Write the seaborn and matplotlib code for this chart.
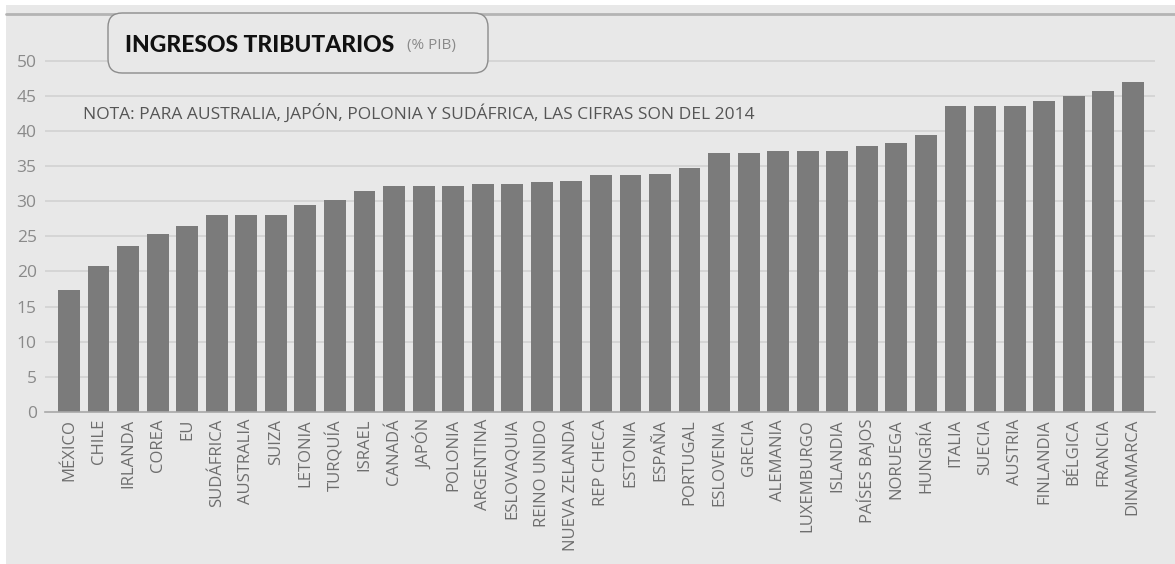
import matplotlib
matplotlib.use("Agg")
import matplotlib.pyplot as plt
import seaborn as sns
import pandas as pd
from matplotlib.patches import FancyBboxPatch, Rectangle
from matplotlib.lines import Line2D

paises = ["MÉXICO", "CHILE", "IRLANDA", "COREA", "EU", "SUDÁFRICA", "AUSTRALIA",
          "SUIZA", "LETONIA", "TURQUÍA", "ISRAEL", "CANADÁ", "JAPÓN", "POLONIA",
          "ARGENTINA", "ESLOVAQUIA", "REINO UNIDO", "NUEVA ZELANDA", "REP CHECA",
          "ESTONIA", "ESPAÑA", "PORTUGAL", "ESLOVENIA", "GRECIA", "ALEMANIA",
          "LUXEMBURGO", "ISLANDIA", "PAÍSES BAJOS", "NORUEGA", "HUNGRÍA", "ITALIA",
          "SUECIA", "AUSTRIA", "FINLANDIA", "BÉLGICA", "FRANCIA", "DINAMARCA"]
ingresos = [17.4, 20.8, 23.6, 25.3, 26.4, 28.0, 28.0,
            28.0, 29.4, 30.1, 31.4, 32.1, 32.1, 32.1,
            32.4, 32.5, 32.7, 32.8, 33.7,
            33.7, 33.9, 34.7, 36.8, 36.9, 37.1,
            37.1, 37.1, 37.8, 38.3, 39.4, 43.5,
            43.5, 43.5, 44.3, 45.0, 45.6, 47.0]
y_ticks = [0, 5, 10, 15, 20, 25, 30, 35, 40, 45, 50]
titulo = "INGRESOS TRIBUTARIOS"
unidad = "(% PIB)"
nota = "NOTA: PARA AUSTRALIA, JAPÓN, POLONIA Y SUDÁFRICA, LAS CIFRAS SON DEL 2014"

sns.set_style("white")
plt.rcParams["font.family"] = ["Open Sans", "DejaVu Sans"]

W, H = 1175, 564
BG = "#e8e8e8"
fig = plt.figure(figsize=(W / 100, H / 100), dpi=100, facecolor=BG)

def fx(px):
    return px / W

def fy(py):
    return 1 - py / H

# white margins (left and top)
fig.patches.append(Rectangle((0, 0), fx(6), 1, transform=fig.transFigure,
                             facecolor="white", edgecolor="none", zorder=-5))
fig.patches.append(Rectangle((0, fy(5)), 1, 5 / H, transform=fig.transFigure,
                             facecolor="white", edgecolor="none", zorder=-5))

ax_l, ax_r, ax_t, ax_b = 45, 1155, 13, 412
ax = fig.add_axes([fx(ax_l), fy(ax_b), fx(ax_r - ax_l), (ax_b - ax_t) / H])
ax.set_facecolor("none")

df = pd.DataFrame({"pais": paises, "valor": ingresos})
sns.barplot(data=df, x="pais", y="valor", color="#7b7b7b", saturation=1,
            width=0.74, ax=ax, zorder=3, edgecolor="none")

per = 29.55
ax.set_xlim(-(69 - ax_l) / per, (ax_r - 69) / per)
ax.set_ylim(0, (ax_b - ax_t) / 7.03)
ax.set_yticks(y_ticks)
ax.set_yticklabels([str(v) for v in y_ticks], fontsize=12.5, color="#8a8a8a")
for v in y_ticks[1:]:
    ax.axhline(v, color="#d2d2d2", lw=1.2, zorder=1)
ax.tick_params(axis="both", length=0)
ax.tick_params(axis="y", pad=6)
ax.tick_params(axis="x", pad=5)
ax.set_xticks(range(len(paises)))
ax.set_xticklabels(paises, rotation=90, fontsize=12, color="#6e6e6e")
ax.set_xlabel("")
ax.set_ylabel("")
for s in ["top", "right", "left"]:
    ax.spines[s].set_visible(False)
ax.spines["bottom"].set_color("#a8a8a8")
ax.spines["bottom"].set_linewidth(1.2)
ax.spines["bottom"].set_zorder(4)

# top line
fig.lines.append(Line2D([fx(6), 1], [fy(13.5), fy(13.5)], transform=fig.transFigure,
                        color="#b4b4b4", lw=2, zorder=5))

# title box
bx0, bx1, by0, by1 = 108, 488, 13, 73
box = FancyBboxPatch((fx(bx0), fy(by1)), fx(bx1 - bx0), (by1 - by0) / H,
                     boxstyle="round,pad=0,rounding_size=0.012",
                     transform=fig.transFigure, facecolor=BG, edgecolor="#8c8c8c",
                     lw=1, zorder=6, mutation_aspect=W / H)
fig.patches.append(box)
fig.text(fx(125), fy(45), titulo, fontsize=16.5, fontweight="black",
         family=["Lato", "DejaVu Sans"], color="#111111", va="center", ha="left", zorder=7)
fig.text(fx(407), fy(45), unidad, fontsize=11, color="#8a8a8a", va="center", ha="left", zorder=7)

fig.text(fx(83), fy(113), nota, fontsize=12.5, color="#555555", va="center", ha="left", zorder=7)

fig.savefig("out.png", dpi=100, facecolor=fig.get_facecolor())
